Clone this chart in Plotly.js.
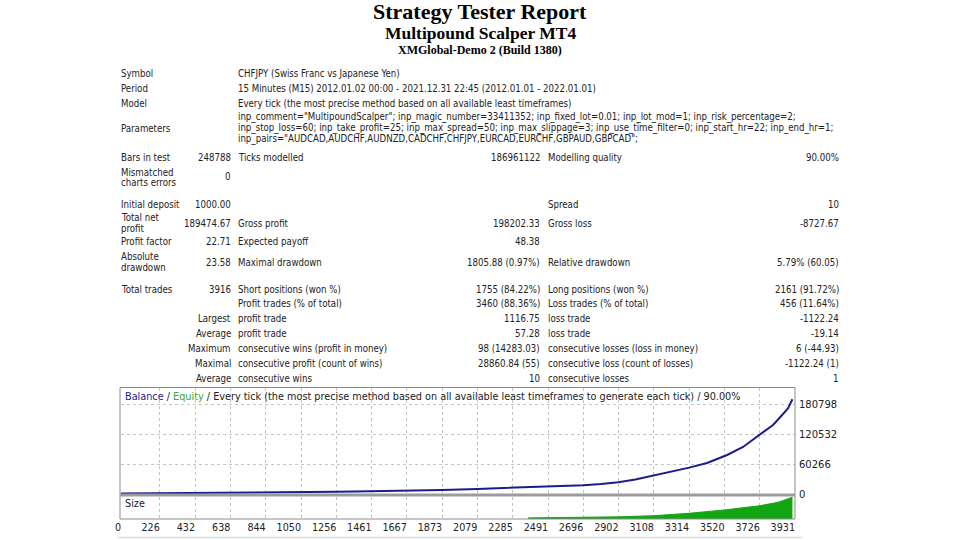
<!DOCTYPE html>
<html>
<head>
<meta charset="utf-8">
<script src="https://cdn.plot.ly/plotly-3.0.1.min.js"></script>
<style>
html,body{margin:0;padding:0;background:#fff;}
#chart{width:960px;height:540px;}
</style>
</head>
<body>
<div id="chart"></div>
<script>
// ---------- report text ----------
const reportTitle = 'Strategy Tester Report';
const expertName = 'Multipound Scalper MT4';
const serverName = 'XMGlobal-Demo 2 (Build 1380)';

const infoLabels = ['Symbol', 'Period', 'Model', 'Parameters'];
const infoValues = [
  ['CHFJPY (Swiss Franc vs Japanese Yen)'],
  ['15 Minutes (M15) 2012.01.02 00:00 - 2021.12.31 22:45 (2012.01.01 - 2022.01.01)'],
  ['Every tick (the most precise method based on all available least timeframes)'],
  ['inp_comment="MultipoundScalper"; inp_magic_number=33411352; inp_fixed_lot=0.01; inp_lot_mod=1; inp_risk_percentage=2;',
   'inp_stop_loss=60; inp_take_profit=25; inp_max_spread=50; inp_max_slippage=3; inp_use_time_filter=0; inp_start_hr=22; inp_end_hr=1;',
   'inp_pairs="AUDCAD,AUDCHF,AUDNZD,CADCHF,CHFJPY,EURCAD,EURCHF,GBPAUD,GBPCAD";']
];

const colA = ['Bars in test', 'Mismatched|charts errors', 'Initial deposit', 'Total net|profit', 'Profit factor', 'Absolute|drawdown', 'Total trades', '', '', '', '', '', ''];
const colB = ['248788', '0', '1000.00', '189474.67', '22.71', '23.58', '3916', '', 'Largest', 'Average', 'Maximum', 'Maximal', 'Average'];
const colC = ['Ticks modelled', '', '', 'Gross profit', 'Expected payoff', 'Maximal drawdown', 'Short positions (won %)', 'Profit trades (% of total)', 'profit trade', 'profit trade', 'consecutive wins (profit in money)', 'consecutive profit (count of wins)', 'consecutive wins'];
const colD = ['186961122', '', '', '198202.33', '48.38', '1805.88 (0.97%)', '1755 (84.22%)', '3460 (88.36%)', '1116.75', '57.28', '98 (14283.03)', '28860.84 (55)', '10'];
const colE = ['Modelling quality', '', 'Spread', 'Gross loss', '', 'Relative drawdown', 'Long positions (won %)', 'Loss trades (% of total)', 'loss trade', 'loss trade', 'consecutive losses (loss in money)', 'consecutive loss (count of losses)', 'consecutive losses'];
const colF = ['90.00%', '', '10', '-8727.67', '', '5.79% (60.05)', '2161 (91.72%)', '456 (11.64%)', '-1122.24', '-19.14', '6 (-44.93)', '-1122.24 (1)', '1'];

// ---------- chart data ----------
const tradeNo = [0, 420, 830, 845, 1250, 1365, 1461, 1667, 1873, 2079, 2285, 2491, 2696, 2800, 2900, 3000, 3108, 3200, 3314, 3418, 3535, 3628, 3727, 3803, 3856, 3890, 3916];
const balance = [1000, 1600, 2300, 3300, 4300, 5000, 5400, 6200, 7900, 10200, 12200, 14500, 17500, 20000, 23500, 29000, 37000, 44500, 53000, 62300, 78400, 94500, 118600, 138700, 158800, 172000, 190475];
const sizeTradeNo = [2375, 2491, 2696, 2902, 3108, 3314, 3520, 3726, 3830, 3916];
const sizeLots = [0.3, 0.36, 0.44, 0.58, 0.9, 1.55, 2.45, 3.6, 4.5, 5.9];
const xTicks = [0, 226, 432, 638, 844, 1050, 1256, 1461, 1667, 1873, 2079, 2285, 2491, 2696, 2902, 3108, 3314, 3520, 3726, 3931];
const yTicks = [0, 60266, 120532, 180798];
const chartHeader = 'Every tick (the most precise method based on all available least timeframes to generate each tick) / 90.00%';

// ---------- layout helpers ----------
const W = 960, H = 540;
const px = v => v / W;
const py = v => 1 - v / H;
const TXT = '#222222';
const SANS = 'DejaVu Sans, Verdana, sans-serif';
const TABLE = 'DejaVu Sans Condensed, Liberation Sans, sans-serif';
const FS = 9.6;

const annotations = [];
function addText(text, x, y, anchor, opts) {
  opts = opts || {};
  annotations.push({
    text: text, x: px(x), y: py(y), xref: 'paper', yref: 'paper',
    xanchor: anchor, yanchor: 'middle', showarrow: false, borderpad: 0,
    font: Object.assign({family: TABLE, size: FS, color: TXT}, opts.font || {})
  });
}

// titles
const SERIF = 'Liberation Serif, Times New Roman, serif';
annotations.push({text: '<b>' + reportTitle + '</b>', x: 0.5, y: py(11), xref: 'paper', yref: 'paper', xanchor: 'center', yanchor: 'middle', showarrow: false, borderpad: 0,
  font: {family: SERIF, size: 22, color: '#000'}});
annotations.push({text: '<b>' + expertName + '</b>', x: 0.5, y: py(33.5), xref: 'paper', yref: 'paper', xanchor: 'center', yanchor: 'middle', showarrow: false, borderpad: 0,
  font: {family: SERIF, size: 17.5, color: '#000'}});
annotations.push({text: '<b>' + serverName + '</b>', x: 0.5, y: py(50), xref: 'paper', yref: 'paper', xanchor: 'center', yanchor: 'middle', showarrow: false, borderpad: 0,
  font: {family: SERIF, size: 12, color: '#000'}});

// info block
const infoY = [73, 88, 103, 128];
const LINE = 10.5;
infoLabels.forEach((lab, i) => {
  addText(lab, 120, infoY[i], 'left');
  const lines = infoValues[i];
  const y0 = infoY[i] - (lines.length - 1) * LINE / 2;
  lines.forEach((ln, j) => addText(ln, 237, y0 + j * LINE, 'left'));
});

// stats block
const rowY = [158, 177, 204, 223, 241, 262, 289, 303, 318, 333, 348, 363, 378];
function addMulti(str, x, y, anchor) {
  if (!str) return;
  const parts = str.split('|');
  const y0 = y - (parts.length - 1) * 10 / 2;
  parts.forEach((p, j) => addText(p, x, y0 + j * 10, anchor));
}
rowY.forEach((y, i) => {
  addMulti(colA[i], 120, y, 'left');
  addMulti(colB[i], 232, y, 'right');
  addMulti(colC[i], 237, y, 'left');
  addMulti(colD[i], 541, y, 'right');
  addMulti(colE[i], 547, y, 'left');
  addMulti(colF[i], 840, y, 'right');
});

// chart header and size label
annotations.push({
  text: '<span style="color:#23238e">Balance</span> / <span style="color:#3aa83a">Equity</span> / ' + chartHeader,
  x: px(124), y: py(396), xref: 'paper', yref: 'paper', xanchor: 'left', yanchor: 'middle', showarrow: false, borderpad: 0,
  font: {family: SANS, size: 9.7, color: TXT}
});
annotations.push({
  text: 'Size', x: px(124), y: py(503), xref: 'paper', yref: 'paper', xanchor: 'left', yanchor: 'middle', showarrow: false, borderpad: 0,
  font: {family: SANS, size: 9.7, color: TXT}
});

const plotL = 121, plotR = 795;
const shapes = [
  {type: 'rect', xref: 'paper', yref: 'paper', x0: px(120), x1: px(plotR), y0: py(519), y1: py(387.5),
   line: {color: '#8c8c8c', width: 1}, layer: 'above'},
  {type: 'rect', xref: 'paper', yref: 'paper', x0: px(120), x1: px(plotR), y0: py(496.5), y1: py(493.5),
   fillcolor: '#9c9c9c', line: {width: 0}, layer: 'above'},
  {type: 'line', xref: 'paper', yref: 'paper', x0: px(118), x1: px(802), y0: py(537.5), y1: py(537.5),
   line: {color: '#dddddd', width: 1.5}}
];

const gridCommon = {showgrid: true, gridcolor: '#c4c4c4', griddash: 'dot', gridwidth: 1, zeroline: false, ticks: '', showline: false};

const traces = [
  {x: tradeNo, y: balance, type: 'scatter', mode: 'lines', xaxis: 'x', yaxis: 'y',
   line: {color: '#1c1c8a', width: 2}, hoverinfo: 'skip'},
  {x: sizeTradeNo, y: sizeLots, type: 'scatter', mode: 'lines', xaxis: 'x2', yaxis: 'y2',
   fill: 'tozeroy', fillcolor: '#12a612', line: {color: '#12a612', width: 1}, hoverinfo: 'skip'}
];

const layout = {
  width: W, height: H, margin: {l: 0, r: 0, t: 0, b: 0},
  paper_bgcolor: '#ffffff', plot_bgcolor: '#ffffff', showlegend: false,
  xaxis: Object.assign({}, gridCommon, {domain: [px(plotL), px(plotR)], range: [0, 3931], anchor: 'y',
    tickvals: xTicks, showticklabels: false}),
  xaxis2: Object.assign({}, gridCommon, {domain: [px(plotL), px(plotR)], range: [0, 3931], anchor: 'y2', matches: 'x',
    tickvals: xTicks, ticktext: xTicks.map(String), ticklabelposition: 'outside left', ticklabelstandoff: 1,
    tickfont: {family: SANS, size: 9.6, color: TXT}}),
  yaxis: Object.assign({}, gridCommon, {domain: [py(494), py(388)], range: [0, 213000], anchor: 'x', side: 'right',
    tickvals: yTicks, ticktext: yTicks.map(String), ticklabelstandoff: 3,
    tickfont: {family: SANS, size: 10, color: TXT}}),
  yaxis2: {domain: [py(519), py(496.5)], range: [0, 6.1], anchor: 'x2', showgrid: false, zeroline: false,
    showticklabels: false, ticks: ''},
  annotations: annotations,
  shapes: shapes
};

Plotly.newPlot('chart', traces, layout, {staticPlot: true, displayModeBar: false});
</script>
</body>
</html>
